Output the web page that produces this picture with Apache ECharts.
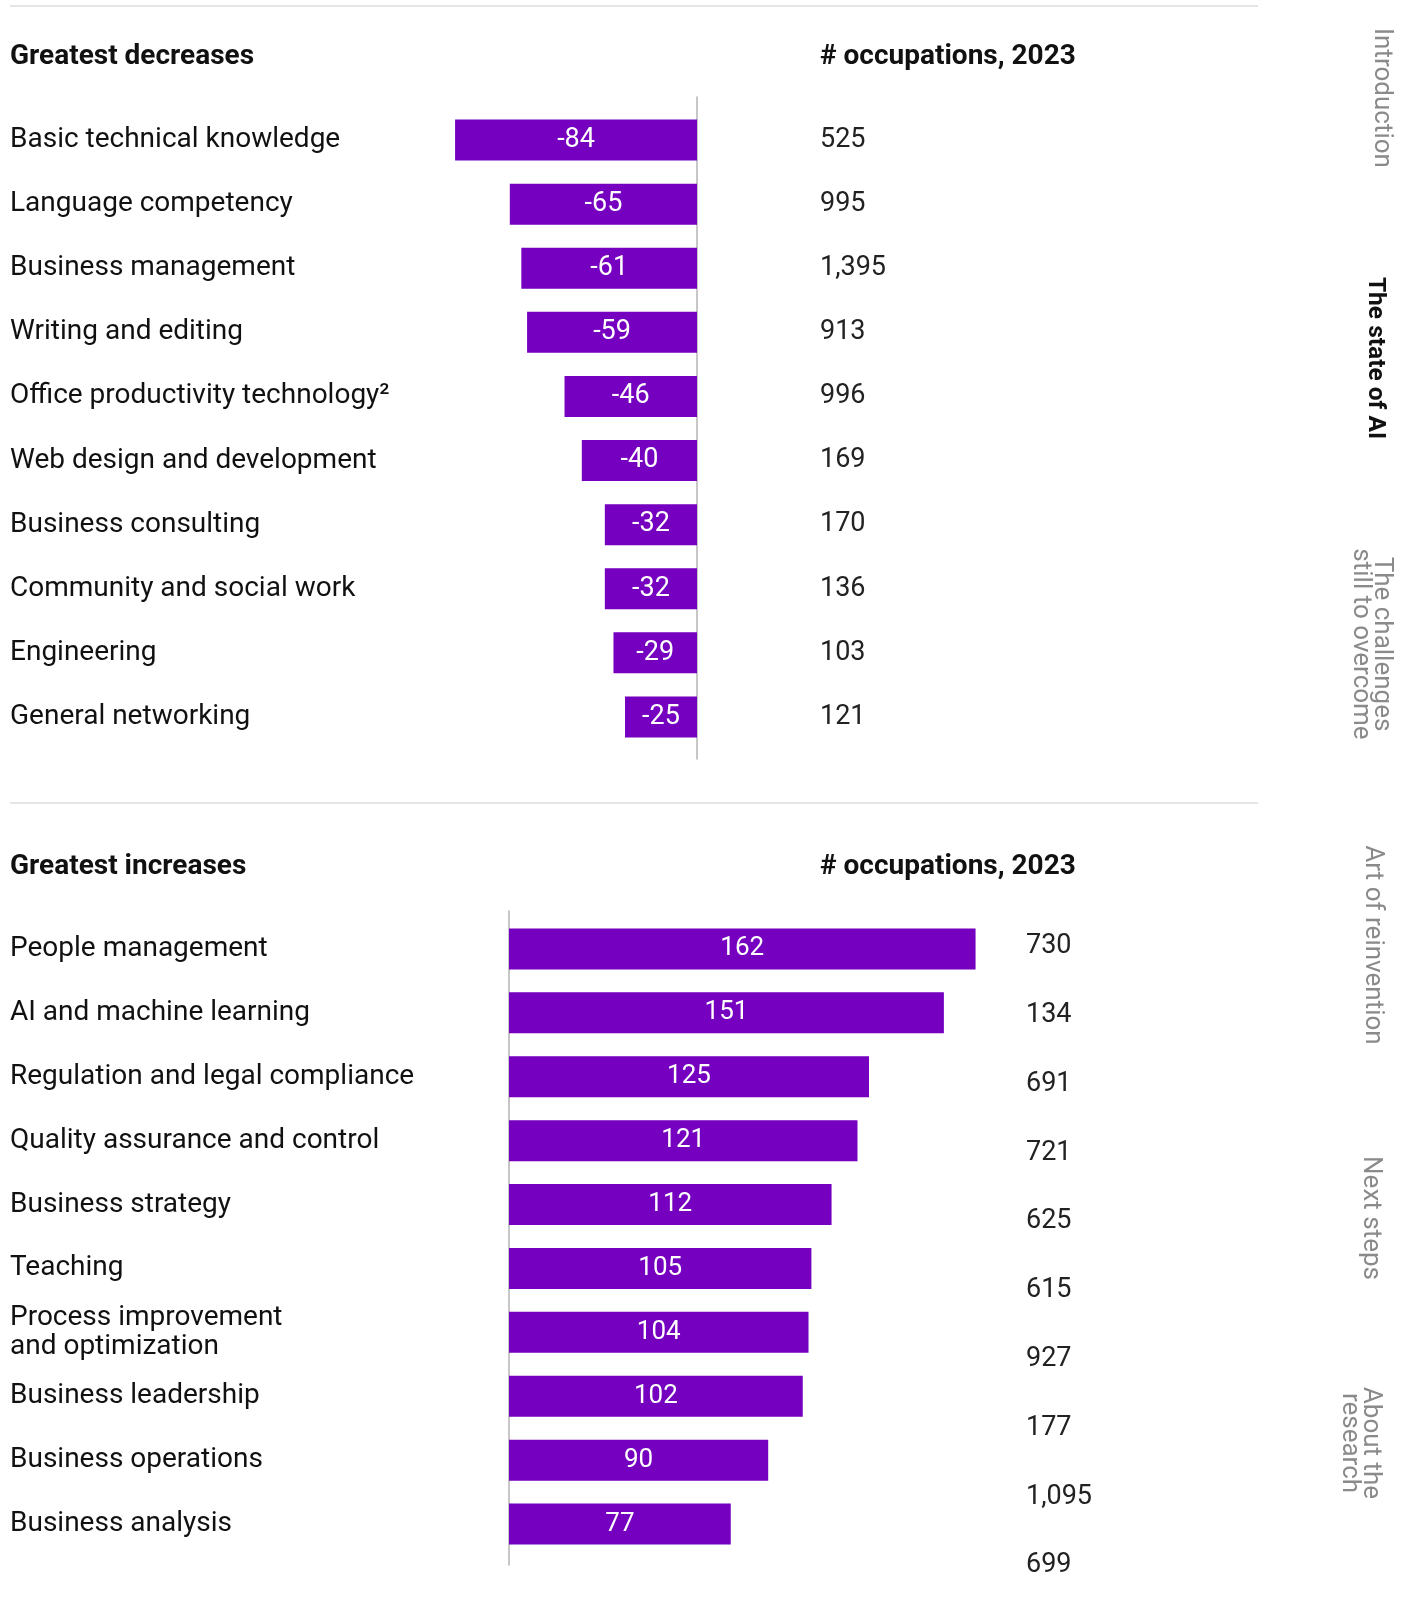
<!DOCTYPE html>
<html>
<head>
<meta charset="utf-8">
<script src="https://cdn.jsdelivr.net/npm/echarts@6/dist/echarts.min.js"></script>
<style>
  html, body { margin: 0; padding: 0; background: #fff; }
  #chart { width: 1405px; height: 1606px; }
</style>
</head>
<body>
<div id="chart"></div>
<script>
// data
const decLabels = [
  'Basic technical knowledge', 'Language competency', 'Business management',
  'Writing and editing', 'Office productivity technology\u00b2', 'Web design and development',
  'Business consulting', 'Community and social work', 'Engineering', 'General networking'
];
const decValues = [-84, -65, -61, -59, -46, -40, -32, -32, -29, -25];
const decCounts = ['525', '995', '1,395', '913', '996', '169', '170', '136', '103', '121'];

const incLabels = [
  'People management', 'AI and machine learning', 'Regulation and legal compliance',
  'Quality assurance and control', 'Business strategy', 'Teaching',
  'Process improvement\nand optimization', 'Business leadership', 'Business operations', 'Business analysis'
];
const incValues = [162, 151, 125, 121, 112, 105, 104, 102, 90, 77];
const incCounts = ['730', '134', '691', '721', '625', '615', '927', '177', '1,095', '699'];

const navItems = ['Introduction', 'The state of AI', 'The challenges\nstill to overcome',
  'Art of reinvention', 'Next steps', 'About the\nresearch'];

const PURPLE = '#7500c0';
const FONT = 'Roboto, "Noto Sans", sans-serif';
const PX = 2.88; // px per unit

const chart = echarts.init(document.getElementById('chart'));

// layout
const decZero = 697, incZero = 509;
const decMin = -100, incMax = 200;
const decGrid = { left: decZero + decMin * PX, width: -decMin * PX, top: 108, height: 641 };
const incGrid = { left: incZero, width: incMax * PX, top: 917, height: 639 };

const hidden = { show: false };
const labelStyle = { color: '#111', fontSize: 28, fontFamily: FONT, lineHeight: 29 };
const countStyle = { color: '#222', fontSize: 27, fontFamily: FONT };
const headStyle = { fontSize: 28, fontWeight: 'bold', color: '#111', fontFamily: FONT };

const option = {
  animation: false,
  title: [
    { text: 'Greatest decreases', left: 10, top: 43, padding: 0, textStyle: headStyle },
    { text: '# occupations, 2023', left: 820, top: 43, padding: 0, textStyle: headStyle },
    { text: 'Greatest increases', left: 10, top: 853, padding: 0, textStyle: headStyle },
    { text: '# occupations, 2023', left: 820, top: 853, padding: 0, textStyle: headStyle }
  ],
  grid: [
    Object.assign({}, decGrid),                                            // 0 decreases bars
    { left: decGrid.left, width: decGrid.width, top: 97, height: 662 },    // 1 decreases zero line
    Object.assign({}, incGrid),                                            // 2 increases bars
    { left: incGrid.left, width: incGrid.width, top: 911, height: 654 },   // 3 increases zero line
    { left: 1026, width: 10, top: 912, height: 688 }                       // 4 increases counts
  ],
  xAxis: [
    { gridIndex: 0, type: 'value', min: decMin, max: 0, show: false },
    { gridIndex: 1, type: 'value', min: decMin, max: 0, show: false },
    { gridIndex: 2, type: 'value', min: 0, max: incMax, show: false },
    { gridIndex: 3, type: 'value', min: 0, max: incMax, show: false },
    { gridIndex: 4, type: 'value', min: 0, max: 1, show: false }
  ],
  yAxis: [
    { // 0 decrease labels
      gridIndex: 0, type: 'category', data: decLabels, inverse: true, position: 'left',
      axisLine: hidden, axisTick: hidden,
      axisLabel: Object.assign({ align: 'left', margin: decGrid.left - 10 }, labelStyle)
    },
    { // 1 decrease counts
      gridIndex: 0, type: 'category', data: decCounts, inverse: true, position: 'right',
      axisLine: hidden, axisTick: hidden,
      axisLabel: Object.assign({ align: 'left', margin: 820 - decZero }, countStyle)
    },
    { // 2 decrease zero line
      gridIndex: 1, type: 'value', position: 'right',
      axisLine: { show: true, lineStyle: { color: '#b5b5b5', width: 1.5 } },
      axisTick: hidden, axisLabel: hidden, splitLine: hidden
    },
    { // 3 increase labels
      gridIndex: 2, type: 'category', data: incLabels, inverse: true, position: 'left',
      axisLine: hidden, axisTick: hidden,
      axisLabel: Object.assign({ align: 'left', margin: incZero - 10 }, labelStyle)
    },
    { // 4 increase zero line
      gridIndex: 3, type: 'value', position: 'left',
      axisLine: { show: true, lineStyle: { color: '#b5b5b5', width: 1.5 } },
      axisTick: hidden, axisLabel: hidden, splitLine: hidden
    },
    { // 5 increase counts
      gridIndex: 4, type: 'category', data: incCounts, inverse: true, position: 'left',
      axisLine: hidden, axisTick: hidden,
      axisLabel: Object.assign({ align: 'left', margin: 0 }, countStyle)
    }
  ],
  series: [
    {
      type: 'bar', xAxisIndex: 0, yAxisIndex: 0, data: decValues, barWidth: 41,
      itemStyle: { color: PURPLE },
      label: { show: true, position: 'inside', color: '#fff', fontSize: 27, fontFamily: FONT }
    },
    {
      type: 'bar', xAxisIndex: 2, yAxisIndex: 3, data: incValues, barWidth: 41,
      itemStyle: { color: PURPLE },
      label: { show: true, position: 'inside', color: '#fff', fontSize: 26, fontFamily: FONT }
    }
  ],
  graphic: [
    { type: 'line', shape: { x1: 10, y1: 6, x2: 1258, y2: 6 }, style: { stroke: '#dcdcdc', lineWidth: 1.5 } },
    { type: 'line', shape: { x1: 10, y1: 803, x2: 1258, y2: 803 }, style: { stroke: '#dcdcdc', lineWidth: 1.5 } }
  ]
};

// right-hand navigation, rotated to read top to bottom
const navPos = [[1381, 98], [1375, 358], [1371, 644], [1372, 945], [1370, 1218], [1360, 1443]];
navItems.forEach(function (t, i) {
  option.graphic.push({
    type: 'text', x: navPos[i][0], y: navPos[i][1], rotation: -Math.PI / 2,
    style: {
      text: t, align: 'center', verticalAlign: 'middle', lineHeight: 21,
      fontSize: i === 1 ? 24.5 : 26, fontFamily: FONT,
      fontWeight: i === 1 ? 'bold' : 'normal',
      fill: i === 1 ? '#111' : '#8a8a8a'
    }
  });
});

chart.setOption(option);
</script>
</body>
</html>
